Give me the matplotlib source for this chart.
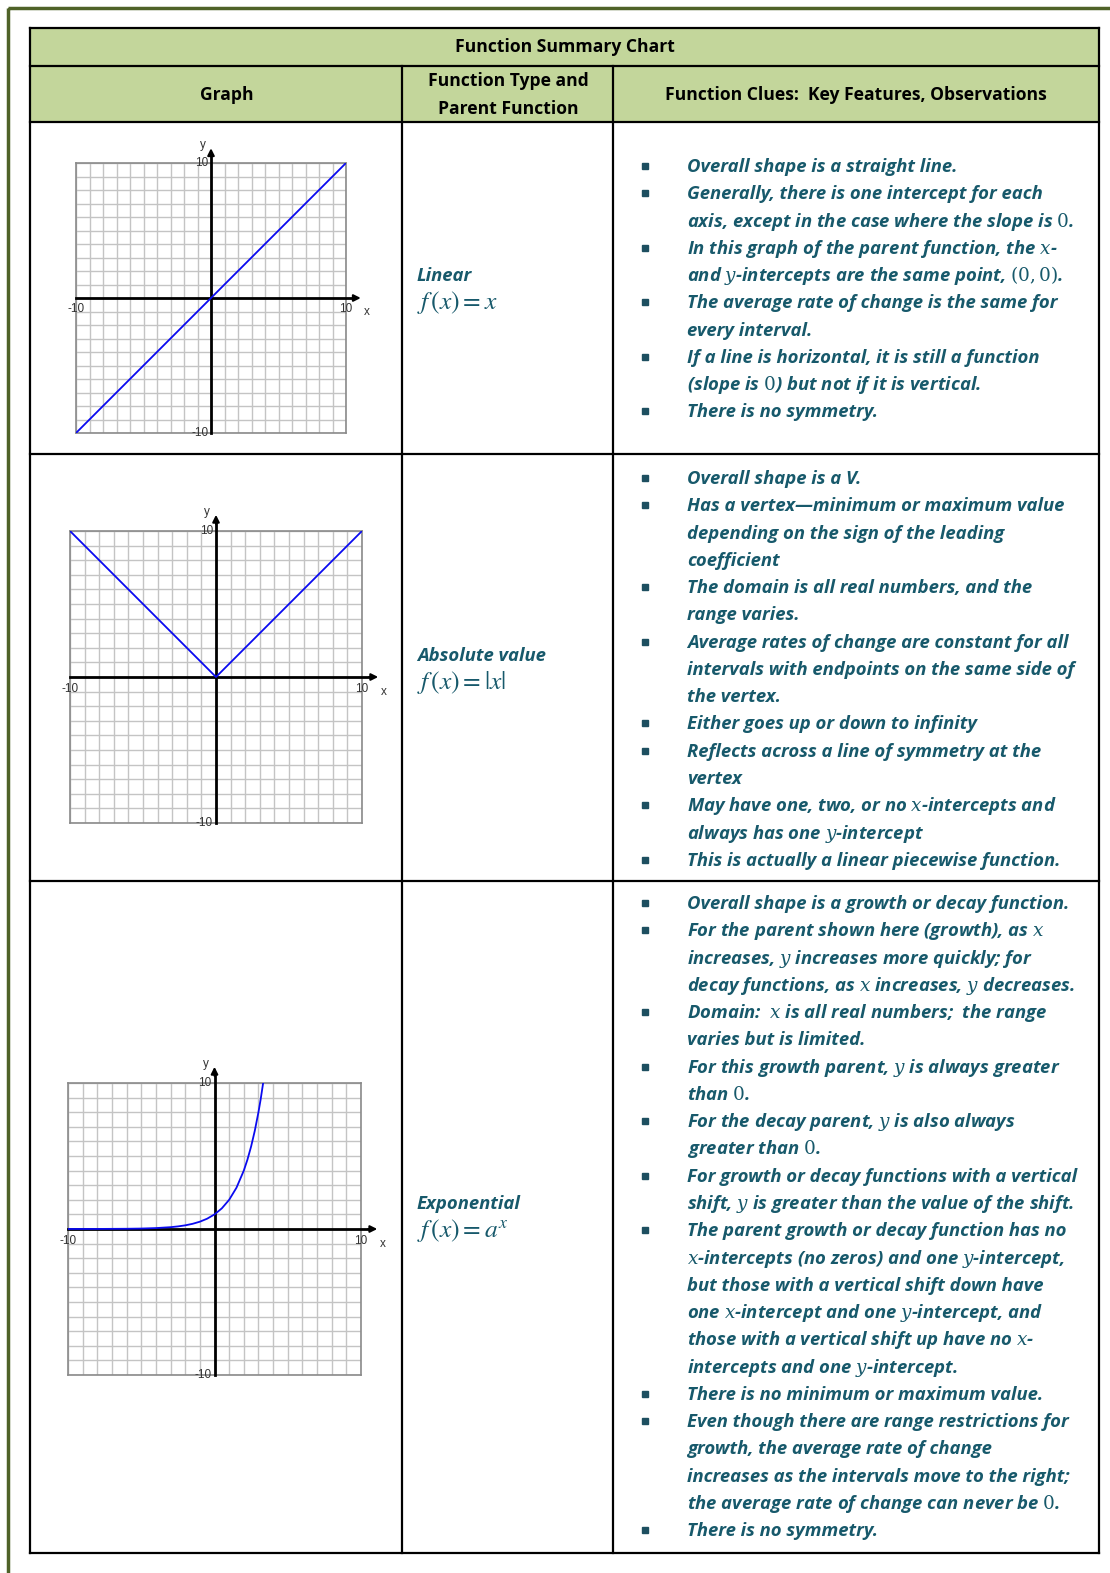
import matplotlib
matplotlib.use("Agg")
import matplotlib.pyplot as plt
from matplotlib.patches import Rectangle

plt.rcParams['mathtext.fontset'] = 'stix'

W, H = 1110, 1573

# --- dados da tabela ---
titulo = "Function Summary Chart"
cabecalhos = ["Graph", "Function Type and\nParent Function", "Function Clues:  Key Features, Observations"]

tipos = ["Linear", "Absolute value", "Exponential"]
formulas = [r"$f\,(x) = x$", r"$f\,(x) = |x|$", r"$f\,(x) = a^x$"]

# pontos
linear_x = [-10, 10]
linear_y = [-10, 10]
abs_x = [-10, 0, 10]
abs_y = [10, 0, 10]
exp_x = [-10, -8, -6, -5, -4, -3, -2.5, -2, -1.5, -1, -0.5, 0, 0.5, 1, 1.5, 2,
         2.25, 2.5, 2.75, 3, 3.15, 3.32]
exp_y = [0.001, 0.004, 0.016, 0.031, 0.063, 0.125, 0.177, 0.25, 0.354, 0.5, 0.707, 1,
         1.414, 2, 2.828, 4, 4.757, 5.657, 6.727, 8, 8.876, 10]

# linhas de texto: (tem marcador, texto)
clues_linear = [
    (True, "Overall shape is a straight line."),
    (True, "Generally, there is one intercept for each"),
    (False, "axis, except in the case where the slope is $0$."),
    (True, "In this graph of the parent function, the $x$-"),
    (False, "and $y$-intercepts are the same point, $(0,0)$."),
    (True, "The average rate of change is the same for"),
    (False, "every interval."),
    (True, "If a line is horizontal, it is still a function"),
    (False, "(slope is $0$) but not if it is vertical."),
    (True, "There is no symmetry."),
]
clues_abs = [
    (True, "Overall shape is a V."),
    (True, "Has a vertex\u2014minimum or maximum value"),
    (False, "depending on the sign of the leading"),
    (False, "coefficient"),
    (True, "The domain is all real numbers, and the"),
    (False, "range varies."),
    (True, "Average rates of change are constant for all"),
    (False, "intervals with endpoints on the same side of"),
    (False, "the vertex."),
    (True, "Either goes up or down to infinity"),
    (True, "Reflects across a line of symmetry at the"),
    (False, "vertex"),
    (True, "May have one, two, or no $x$-intercepts and"),
    (False, "always has one $y$-intercept"),
    (True, "This is actually a linear piecewise function."),
]
clues_exp = [
    (True, "Overall shape is a growth or decay function."),
    (True, "For the parent shown here (growth), as $x$"),
    (False, "increases, $y$ increases more quickly; for"),
    (False, "decay functions, as $x$ increases, $y$ decreases."),
    (True, "Domain:  $x$ is all real numbers;  the range"),
    (False, "varies but is limited."),
    (True, "For this growth parent, $y$ is always greater"),
    (False, "than $0$."),
    (True, "For the decay parent, $y$ is also always"),
    (False, "greater than $0$."),
    (True, "For growth or decay functions with a vertical"),
    (False, "shift, $y$ is greater than the value of the shift."),
    (True, "The parent growth or decay function has no"),
    (False, "$x$-intercepts (no zeros) and one $y$-intercept,"),
    (False, "but those with a vertical shift down have"),
    (False, "one $x$-intercept and one $y$-intercept, and"),
    (False, "those with a vertical shift up have no $x$-"),
    (False, "intercepts and one $y$-intercept."),
    (True, "There is no minimum or maximum value."),
    (True, "Even though there are range restrictions for"),
    (False, "growth, the average rate of change"),
    (False, "increases as the intervals move to the right;"),
    (False, "the average rate of change can never be $0$."),
    (True, "There is no symmetry."),
]

# --- estilo ---
VERDE = '#c3d69b'
MOLDURA = '#4f6228'
AZUL_TXT = '#17596b'
FONTE = ['Open Sans', 'DejaVu Sans']
FS = 13.3

fig = plt.figure(figsize=(W / 100, H / 100), dpi=100)
bg = fig.add_axes([0, 0, 1, 1])
bg.set_xlim(0, W)
bg.set_ylim(H, 0)
bg.axis('off')

# moldura externa
bg.add_patch(Rectangle((8, 8), 1200, 1700, fill=False, ec=MOLDURA, lw=2.5))

# grade da tabela
cols = [30, 402, 613, 1099]
rows = [28, 66, 122, 454, 881, 1553]
bg.add_patch(Rectangle((30, 28), 1069, 94, fc=VERDE, ec='none'))
for y in rows:
    bg.plot([30, 1099], [y, y], color='black', lw=1.6, solid_capstyle='projecting')
bg.plot([30, 30], [28, 1553], color='black', lw=1.6)
bg.plot([1099, 1099], [28, 1553], color='black', lw=1.6)
for x in cols[1:3]:
    bg.plot([x, x], [66, 1553], color='black', lw=1.6)

FSH = 12.6
bg.text(565, 47, titulo, ha='center', va='center', fontsize=FSH, fontweight='bold',
        family=FONTE)
bg.text(227, 95, cabecalhos[0], ha='center', va='center', fontsize=FSH, fontweight='bold',
        family=FONTE)
bg.text(508, 95, cabecalhos[1], ha='center', va='center', fontsize=FSH, fontweight='bold',
        family=FONTE, linespacing=1.7)
bg.text(856, 95, cabecalhos[2], ha='center', va='center', fontsize=FSH, fontweight='bold',
        family=FONTE)

# tipo e funcao-mae
tipo_y = [275, 655, 1203]
for nome, form, y in zip(tipos, formulas, tipo_y):
    bg.text(417, y + 6, nome, ha='left', va='baseline', fontsize=FS, fontweight='bold',
            fontstyle='italic', family=FONTE, color=AZUL_TXT)
    bg.text(417, y + 34, form, ha='left', va='baseline', fontsize=FS * 1.38,
            color=AZUL_TXT, math_fontfamily='stix')

# pistas
inicio = [166, 478, 903]
passo = 27.27
for linhas, y0 in zip([clues_linear, clues_abs, clues_exp], inicio):
    for i, (marca, txt) in enumerate(linhas):
        y = y0 + i * passo
        if marca:
            bg.plot(645, y, marker='s', ms=4.2, color='#1d4f60', ls='none')
        bg.text(687, y + 6, txt, ha='left', va='baseline', fontsize=FS, fontweight='bold',
                fontstyle='italic', family=FONTE, color=AZUL_TXT,
                math_fontfamily='dejavuserif')


def grafico(caixa, xs, ys):
    l, t, r, b = caixa
    ax = fig.add_axes([l / W, 1 - b / H, (r - l) / W, (b - t) / H])
    ax.set_xlim(-10, 10)
    ax.set_ylim(-10, 10)
    for v in range(-10, 11):
        ax.axvline(v, color='#c4c4c4', lw=1, zorder=1)
        ax.axhline(v, color='#c4c4c4', lw=1, zorder=1)
    for s in ax.spines.values():
        s.set_color('#8a8a8a')
        s.set_linewidth(1.2)
    ax.set_xticks([])
    ax.set_yticks([])
    ax.plot([-10, 10.6], [0, 0], color='black', lw=2, clip_on=False, zorder=3)
    ax.plot([0, 0], [-10, 10.6], color='black', lw=2, clip_on=False, zorder=3)
    ax.annotate('', xy=(11.3, 0), xytext=(10.3, 0),
                arrowprops=dict(arrowstyle='-|>', color='black', lw=1.5,
                                mutation_scale=10), annotation_clip=False)
    ax.annotate('', xy=(0, 11.3), xytext=(0, 10.3),
                arrowprops=dict(arrowstyle='-|>', color='black', lw=1.5,
                                mutation_scale=10), annotation_clip=False)
    ax.plot(xs, ys, color='#0a0af0', lw=1.3, zorder=4)
    fsl = 8.5
    cor = '#333333'
    fam = 'Liberation Sans'
    ax.text(-10.6, -0.4, '-10', ha='left', va='top', fontsize=fsl, color=cor, family=fam)
    ax.text(10, -0.4, '10', ha='center', va='top', fontsize=fsl, color=cor, family=fam)
    ax.text(11.3, -0.6, 'x', ha='left', va='top', fontsize=fsl, color=cor, family=fam)
    ax.text(-0.2, 10, '10', ha='right', va='center', fontsize=fsl, color=cor, family=fam)
    ax.text(-0.2, -10, '-10', ha='right', va='center', fontsize=fsl, color=cor, family=fam)
    ax.text(-0.6, 11.3, 'y', ha='center', va='center', fontsize=fsl, color=cor, family=fam)
    return ax


grafico((76, 163, 346, 433), linear_x, linear_y)
grafico((70, 531, 362, 823), abs_x, abs_y)
grafico((68, 1083, 361, 1375), exp_x, exp_y)

fig.savefig('out.png', dpi=100)
